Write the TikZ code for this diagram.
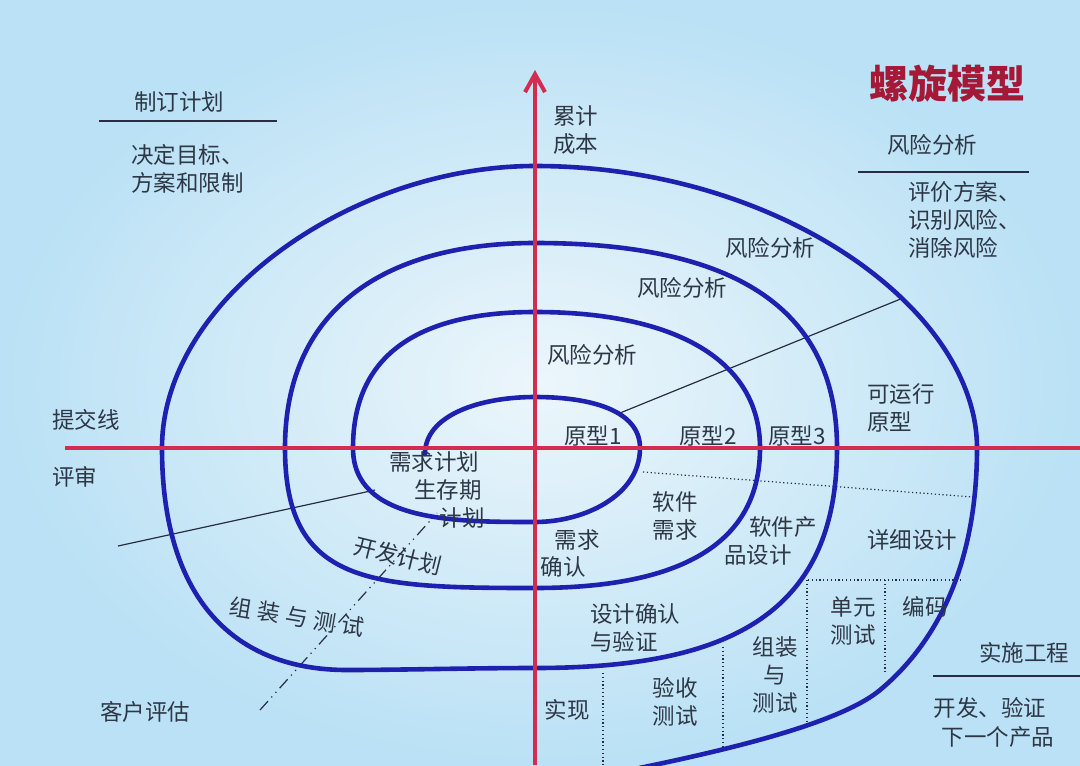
\documentclass[tikz,border=0pt]{standalone}
\usepackage{fontspec}
\setmainfont{Noto Sans CJK SC}
\usetikzlibrary{arrows.meta}
\definecolor{bgin}{RGB}{236,246,251}
\definecolor{bgout}{RGB}{186,225,245}
\definecolor{spiralc}{RGB}{30,32,175}
\definecolor{axisc}{RGB}{210,45,80}
\definecolor{txtc}{RGB}{45,55,70}
\definecolor{titlec}{RGB}{165,25,55}
\definecolor{thinc}{RGB}{40,45,65}
\begin{document}
\begin{tikzpicture}[x=0.5pt,y=-0.5pt,
  lbl/.style={font=\fontsize{11.25}{14}\selectfont, text=txtc, inner sep=0pt, align=center},
  lblL/.style={lbl, anchor=west, align=left},
  titlestyle/.style={font=\fontsize{19.5}{22}\selectfont\bfseries, text=titlec, inner sep=0pt},
  spiralline/.style={draw=spiralc, line width=2.3pt, line join=round, line cap=round},
  axisline/.style={draw=axisc, line width=2pt},
  thinline/.style={draw=thinc, line width=0.6pt},
  dotline/.style={draw=thinc, line width=0.6pt, dash pattern=on 0.6pt off 1.3pt},
  dashdotline/.style={draw=thinc, line width=0.6pt, dash pattern=on 6pt off 2.5pt on 0.6pt off 2.5pt on 0.6pt off 2.5pt},
  rule/.style={draw=thinc, line width=0.6pt}
]
\useasboundingbox (0,0) rectangle (1080,765);
\shade[inner color=bgin, outer color=bgout] (0,0) rectangle (1080,765);

% coordinates
\coordinate (hL) at (65,448);
\coordinate (hR) at (1080,448);
\coordinate (vB) at (535,765);
\coordinate (vT) at (535,70);
\coordinate (tA1) at (118,546);
\coordinate (tA2) at (375,490);
\coordinate (tB1) at (620,413);
\coordinate (tB2) at (903,298);
\coordinate (dd1) at (260,710);
\coordinate (dd2) at (437,513);
\coordinate (p1) at (643,472);
\coordinate (p2) at (973,497);
\coordinate (q1) at (808,580);
\coordinate (q2) at (963,580);
\coordinate (v1a) at (603,673);
\coordinate (v1b) at (603,765);
\coordinate (v2a) at (723,647);
\coordinate (v2b) at (723,746);
\coordinate (v3a) at (807,580);
\coordinate (v3b) at (807,723);
\coordinate (v4a) at (885,580);
\coordinate (v4b) at (885,673);
\coordinate (r1a) at (99,121);
\coordinate (r1b) at (277,121);
\coordinate (r2a) at (858,172);
\coordinate (r2b) at (1029,172);
\coordinate (r3a) at (933,676);
\coordinate (r3b) at (1080,676);

% thin lines
\draw[thinline] (tA1) -- (tA2);
\draw[thinline] (tB1) -- (tB2);
\draw[dashdotline] (dd1) -- (dd2);
\draw[dotline] (p1) -- (p2);
\draw[dotline] (q1) -- (q2);
\draw[dotline] (v1a) -- (v1b);
\draw[dotline] (v2a) -- (v2b);
\draw[dotline] (v3a) -- (v3b);
\draw[dotline] (v4a) -- (v4b);
\draw[rule] (r1a) -- (r1b);
\draw[rule] (r2a) -- (r2b);
\draw[rule] (r3a) -- (r3b);

% spiral
\coordinate (S0) at (425,454);
\coordinate (T1) at (535,397);
\coordinate (R1) at (640,448);
\coordinate (B1) at (535,522);
\coordinate (L1) at (353,448);
\coordinate (T2) at (535,312);
\coordinate (R2) at (760,448);
\coordinate (B2) at (535,588);
\coordinate (L2) at (285,448);
\coordinate (T3) at (535,243);
\coordinate (R3) at (837,448);
\coordinate (B3) at (535,668);
\coordinate (C3) at (347,670);
\coordinate (L3) at (162,448);
\coordinate (T4) at (535,166);
\coordinate (R4) at (977,448);
\coordinate (D4) at (880,690);
\coordinate (E4) at (590,778);
\begin{scope}
\clip (0,0) rectangle (1080,765);
\draw[spiralline] (S0)
  .. controls (425,415) and (480,397) .. (T1)
  .. controls (590,397) and (640,410) .. (R1)
  .. controls (640,495) and (585,522) .. (B1)
  .. controls (455,522) and (353,522) .. (L1)
  .. controls (353,350) and (425,312) .. (T2)
  .. controls (675,312) and (760,360) .. (R2)
  .. controls (760,550) and (670,588) .. (B2)
  .. controls (370,588) and (285,585) .. (L2)
  .. controls (285,305) and (390,243) .. (T3)
  .. controls (730,243) and (837,305) .. (R3)
  .. controls (837,620) and (720,668) .. (B3)
  .. controls (470,668) and (400,670) .. (C3)
  .. controls (235,670) and (162,600) .. (L3)
  .. controls (162,300) and (350,166) .. (T4)
  .. controls (780,166) and (977,310) .. (R4)
  .. controls (977,560) and (940,640) .. (D4)
  .. controls (832,730) and (680,760) .. (E4);
\end{scope}

% axes
\draw[axisline] (hL) -- (hR);
\draw[axisline, -{Straight Barb[length=9pt,width=10pt,line width=2pt]}] (vB) -- (vT);

% title
\node[titlestyle] (title) at (947,84) {螺旋模型};

% labels
\node[lbl] (zdjh) at (179,102) {制订计划};
\node[lblL] (jdmb) at (131,169) {决定目标、\\方案和限制};
\node[lbl] (fxfx0) at (932,145) {风险分析};
\node[lblL] (pjfa) at (908,220) {评价方案、\\识别风险、\\消除风险};
\node[lblL] (ljcb) at (553,130) {累计\\成本};
\node[lbl] (fx3) at (770,248) {风险分析};
\node[lbl] (fx2) at (682,288) {风险分析};
\node[lbl] (fx1) at (592,355) {风险分析};
\node[lbl] (yx1) at (593,436) {原型1};
\node[lbl] (yx2) at (708,436) {原型2};
\node[lbl] (yx3) at (797,436) {原型3};
\node[lblL] (kyx) at (867,408) {可运行\\原型};
\node[lblL] (tjx) at (52,420) {提交线};
\node[lblL] (ps) at (52,477) {评审};
\node[lbl] (xqjh) at (434,462) {需求计划};
\node[lbl] (scq) at (448,490) {生存期};
\node[lbl] (jh) at (462,518) {计划};
\node[lbl, rotate=-14] (kfjh) at (398,556) {开发计划};
\node[lbl, rotate=-9.5] (zzcs1) at (297,617) {组\hspace{3pt}装\hspace{3pt}与\hspace{3pt}测\hspace{3pt}试};
\node[lbl] (khpg) at (145,712) {客户评估};
\node[lbl] (xq) at (577,540) {需求};
\node[lbl] (qr) at (563,567) {确认};
\node[lbl] (rjxq) at (675,516) {软件\\需求};
\node[lbl] (rjc) at (783,527) {软件产};
\node[lbl] (pdsj) at (758,555) {品设计};
\node[lbl] (xxsj) at (912,540) {详细设计};
\node[lbl] (dycs) at (853,621) {单元\\测试};
\node[lbl] (bm) at (925,607) {编码};
\node[lblL] (sjqr) at (590,628) {设计确认\\与验证};
\node[lbl] (zzcs2) at (775,675) {组装\\与\\测试};
\node[lbl] (sx) at (567,710) {实现};
\node[lbl] (ysc) at (675,702) {验收\\测试};
\node[lbl] (ssgc) at (1024,653) {实施工程};
\node[lbl] (kfyz) at (990,708) {开发、验证};
\node[lbl] (xygcp) at (998,737) {下一个产品};
\end{tikzpicture}
\end{document}
